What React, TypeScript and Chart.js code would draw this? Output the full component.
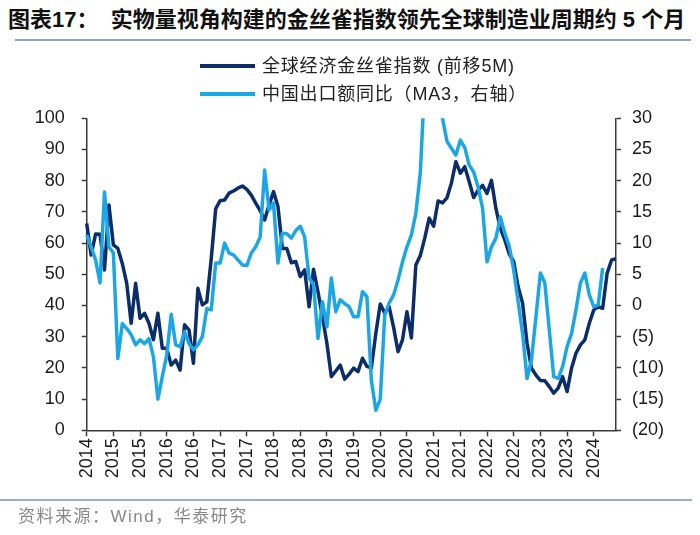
import React, { useEffect, useRef } from 'react';
import { Chart, registerables } from 'chart.js';

Chart.register(...registerables);

// ---- data ----
const START_YEAR = 2014;
const START_MONTH = 9; // first month of the series
const N_MONTHS = 120;
const months: string[] = [];
for (let i = 0; i < N_MONTHS; i++) {
  const m = START_MONTH - 1 + i;
  months.push(`${START_YEAR + Math.floor(m / 12)}-${String((m % 12) + 1).padStart(2, '0')}`);
}
const TICK_EVERY = 6;

// 全球经济金丝雀指数 (前移5M) — left axis
const canaryIndex: (number | null)[] = [
  66.3, 56.2, 62.9, 62.8, 51.4, 72.2, 59.4, 58.3, 53.5, 47.1,
  34.3, 47.1, 35.9, 37.5, 34.3, 29.0, 37.5, 26.3, 26.3, 20.9,
  22.5, 19.3, 33.8, 32.2, 21.5, 45.5, 40.2, 41.2, 55.0, 71.0,
  73.6, 73.8, 76.0, 76.7, 77.6, 78.3, 77.2, 75.4, 72.8, 70.4,
  67.4, 72.2, 76.5, 71.7, 58.3, 58.3, 53.7, 54.1, 49.3, 51.4,
  39.6, 51.6, 44.4, 36.4, 27.9, 17.2, 19.0, 20.9, 16.4, 18.0,
  19.9, 18.8, 23.1, 20.5, 20.0, 31.0, 40.5, 37.6, 39.6, 33.0,
  25.2, 29.0, 38.0, 29.6, 53.0, 56.0, 61.6, 68.0, 65.4, 73.5,
  72.9, 74.5, 79.3, 86.1, 82.4, 84.5, 79.7, 74.6, 77.0, 78.5,
  75.9, 80.1, 71.1, 64.7, 61.0, 56.5, 54.1, 46.0, 40.7, 27.9,
  19.9, 17.7, 16.0, 15.9, 14.0, 11.9, 13.5, 17.2, 12.4, 19.9,
  24.7, 27.4, 29.0, 34.3, 38.6, 39.6, 39.1, 50.3, 54.6, 55.0,
];

// 中国出口额同比（MA3，右轴） — right axis
const chinaExports: (number | null)[] = [
  11.3, 9.4, 7.3, 3.6, 18.2, 9.4, 8.4, -8.5, -2.9, -3.7,
  -4.7, -6.3, -5.5, -6.1, -5.3, -8.2, -15.0, -11.4, -7.9, -1.4,
  -6.3, -6.6, -4.2, -6.1, -7.1, -6.3, -5.0, -0.5, -0.7, 6.8,
  6.8, 10.0, 8.4, 8.1, 7.3, 6.5, 6.4, 8.4, 9.4, 11.0,
  21.7, 15.3, 16.4, 6.8, 11.6, 11.5, 10.8, 12.0, 12.7, 11.0,
  4.4, 3.3, -5.3, 0.6, -3.4, 4.4, -1.0, 0.9, 0.3, -0.2,
  -1.8, -1.8, 2.2, 1.4, -12.0, -16.8, -15.0, -1.5, 0.4, 1.7,
  4.1, 7.0, 9.4, 11.3, 14.8, 21.2, 36.0, 40.0, 36.0, 31.0,
  30.0, 26.3, 25.2, 24.1, 26.5, 25.3, 22.5, 21.4, 19.0, 15.6,
  7.0, 9.4, 10.8, 14.2, 11.6, 9.5, 5.7, 0.6, -4.5, -11.7,
  -8.7, -1.8, 5.2, 3.6, -3.9, -11.4, -11.7, -9.8, -6.6, -4.5,
  -0.7, 3.6, 5.2, 1.7, -0.2, 0.1, 6.0, null, null, null,
];

const leftAxis = { min: 0, max: 100, step: 10 };
const rightAxis = { min: -20, max: 30, step: 5 };

const seriesNames = ['全球经济金丝雀指数 (前移5M)', '中国出口额同比（MA3，右轴）'];
const TITLE = '图表17：  实物量视角构建的金丝雀指数领先全球制造业周期约 5 个月';
const SOURCE = '资料来源：Wind，华泰研究';

const DARK = '#0c2d6c';
const LIGHT = '#1ba7e6';
const AXIS = '#3a3a3a';
const FONT = "'Liberation Sans', Arial, 'Noto Sans CJK SC', sans-serif";

export default function App() {
  const ref = useRef<HTMLCanvasElement | null>(null);

  useEffect(() => {
    document.body.style.margin = '0';
    const canvas = ref.current;
    if (!canvas) return;
    const tickFont = { family: FONT, size: 18 };
    const chart = new Chart(canvas, {
      type: 'line',
      data: {
        labels: months,
        datasets: [
          {
            label: seriesNames[0],
            data: canaryIndex,
            yAxisID: 'yL',
            borderColor: DARK,
            backgroundColor: DARK,
            borderWidth: 3.5,
            pointRadius: 0,
            tension: 0,
            borderJoinStyle: 'round',
            order: 2,
          },
          {
            label: seriesNames[1],
            data: chinaExports,
            yAxisID: 'yR',
            borderColor: LIGHT,
            backgroundColor: LIGHT,
            borderWidth: 3.5,
            pointRadius: 0,
            tension: 0,
            borderJoinStyle: 'round',
            order: 1,
          },
        ],
      },
      options: {
        responsive: false,
        animation: false,
        events: [],
        layout: { padding: { top: 118.3, left: 0, right: 0, bottom: 0 } },
        plugins: { legend: { display: false }, tooltip: { enabled: false }, title: { display: false } },
        scales: {
          x: {
            type: 'category',
            offset: false,
            border: { display: true, color: AXIS, width: 1.5 },
            grid: {
              display: true,
              drawOnChartArea: false,
              drawTicks: true,
              tickLength: 6,
              tickWidth: 1.5,
              tickColor: (ctx: any) => (ctx.index % TICK_EVERY === 0 ? AXIS : 'rgba(0,0,0,0)'),
              color: 'rgba(0,0,0,0)',
            },
            ticks: {
              autoSkip: false,
              maxRotation: 90,
              minRotation: 90,
              padding: 2,
              color: '#1a1a1a',
              font: tickFont,
              callback: (_v: any, idx: number) => (idx % TICK_EVERY === 0 ? months[idx].slice(0, 4) : ''),
            },
            afterFit: (s: any) => {
              s.height = 535 - 430.3;
            },
          },
          yL: {
            type: 'linear',
            position: 'left',
            min: leftAxis.min,
            max: leftAxis.max,
            border: { display: true, color: AXIS, width: 1.5 },
            grid: { display: true, drawOnChartArea: false, drawTicks: true, tickLength: 5, tickWidth: 1.5, tickColor: AXIS },
            ticks: { stepSize: leftAxis.step, padding: 17, color: '#1a1a1a', font: tickFont },
            afterFit: (s: any) => {
              s.width = 86.7;
            },
          },
          yR: {
            type: 'linear',
            position: 'right',
            min: rightAxis.min,
            max: rightAxis.max,
            border: { display: true, color: AXIS, width: 1.5 },
            grid: { display: true, drawOnChartArea: false, drawTicks: true, tickLength: 5, tickWidth: 1.5, tickColor: AXIS },
            ticks: {
              stepSize: rightAxis.step,
              padding: 11,
              color: '#1a1a1a',
              font: tickFont,
              callback: (v: any) => (Number(v) < 0 ? `(${-Number(v)})` : `${v}`),
            },
            afterFit: (s: any) => {
              s.width = 700 - 616;
            },
          },
        },
      } as any,
    });
    return () => chart.destroy();
  }, []);

  const legendRow = (top: number, color: string, text: string) => (
    <div style={{ position: 'absolute', left: 200, top, height: 18, display: 'flex', alignItems: 'center' }}>
      <div style={{ width: 55, height: 4, background: color }} />
      <div
        style={{
          marginLeft: 7,
          fontFamily: FONT,
          fontSize: 18,
          lineHeight: '18px',
          letterSpacing: '0.8px',
          color: '#222',
          whiteSpace: 'nowrap',
        }}
      >
        {text}
      </div>
    </div>
  );

  return (
    <div style={{ position: 'fixed', left: 0, top: 0, width: 700, height: 535, background: '#fff', overflow: 'hidden' }}>
      <div
        style={{
          position: 'absolute',
          left: 8,
          top: 9,
          fontFamily: FONT,
          fontWeight: 'bold',
          fontSize: 22,
          lineHeight: '22px',
          color: '#111',
          whiteSpace: 'pre',
        }}
      >
        {TITLE}
      </div>
      <div style={{ position: 'absolute', left: 15, top: 39, width: 676, height: 2, background: '#8ea4bd' }} />
      <canvas ref={ref} width={700} height={535} style={{ position: 'absolute', left: 0, top: 0 }} />
      {legendRow(57, DARK, seriesNames[0])}
      {legendRow(85, LIGHT, seriesNames[1])}
      <div style={{ position: 'absolute', left: 0, top: 499, width: 692, height: 1.5, background: '#9aacbf' }} />
      <div
        style={{
          position: 'absolute',
          left: 18,
          top: 508,
          fontFamily: FONT,
          fontSize: 17,
          lineHeight: '18px',
          letterSpacing: '1.5px',
          color: '#888',
          whiteSpace: 'nowrap',
        }}
      >
        {SOURCE}
      </div>
    </div>
  );
}
